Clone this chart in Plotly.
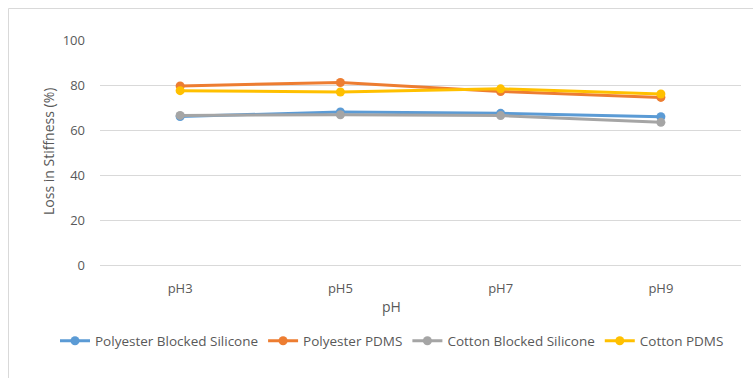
import plotly.graph_objects as go

# Loss in stiffness (%) after exposure at each pH
ph_levels = ["pH3", "pH5", "pH7", "pH9"]
polyester_blocked_silicone = [66.0, 68.0, 67.4, 65.9]
polyester_pdms = [79.6, 81.1, 77.1, 74.5]
cotton_blocked_silicone = [66.5, 66.8, 66.4, 63.4]
cotton_pdms = [77.5, 76.9, 78.3, 76.0]

y_ticks = [0, 20, 40, 60, 80, 100]

series = [
    ("Polyester Blocked Silicone", polyester_blocked_silicone, "#5B9BD5"),
    ("Polyester PDMS", polyester_pdms, "#ED7D31"),
    ("Cotton Blocked Silicone", cotton_blocked_silicone, "#A5A5A5"),
    ("Cotton PDMS", cotton_pdms, "#FFC000"),
]

W, H = 753, 378
L, R, T, B = 100, 12, 40, 113
pw, ph = W - L - R, H - T - B

def px_x(x):
    return (x - L) / pw

def px_y(y):
    return (H - B - y) / ph

FONT = "Open Sans"
GREY = "#595959"

fig = go.Figure()
for name, vals, color in series:
    fig.add_trace(go.Scatter(
        x=ph_levels, y=vals, name=name, mode="lines+markers",
        line=dict(color=color, width=3),
        marker=dict(color=color, size=9),
    ))

fig.update_layout(
    width=W, height=H,
    margin=dict(l=L, r=R, t=T, b=B),
    paper_bgcolor="white", plot_bgcolor="white",
    font=dict(family=FONT, size=12, color=GREY),
    showlegend=True,
    legend=dict(
        orientation="h", x=px_x(55), xanchor="left",
        y=px_y(341), yanchor="middle",
        font=dict(family=FONT, size=13.5, color=GREY),
        itemwidth=30, tracegroupgap=0,
    ),
    xaxis=dict(
        type="category", range=[-0.5, len(ph_levels) - 0.5],
        showgrid=False, zeroline=False, showline=False,
        ticks="", tickfont=dict(size=13, color=GREY),
        ticklabelstandoff=14,
    ),
    yaxis=dict(
        range=[0, 100], tickvals=y_ticks,
        showgrid=True, gridcolor="#D9D9D9", gridwidth=1,
        zeroline=True, zerolinecolor="#D9D9D9", zerolinewidth=1,
        showline=False, ticks="",
        tickfont=dict(size=13, color=GREY),
        ticklabelstandoff=14,
    ),
    annotations=[
        dict(text="pH", xref="paper", yref="paper",
             x=px_x(391), y=px_y(306), xanchor="center", yanchor="middle",
             showarrow=False, font=dict(size=14, color=GREY)),
        dict(text="Loss in Stiffness (%)", xref="paper", yref="paper",
             x=px_x(48), y=px_y(152), xanchor="center", yanchor="middle",
             textangle=-90, showarrow=False, font=dict(size=14, color=GREY)),
    ],
    shapes=[
        dict(type="rect", xref="paper", yref="paper",
             x0=px_x(8.5), x1=px_x(900), y0=px_y(500), y1=px_y(8.5),
             line=dict(color="#D9D9D9", width=1), layer="below"),
    ],
)

fig.write_html("out.html")
